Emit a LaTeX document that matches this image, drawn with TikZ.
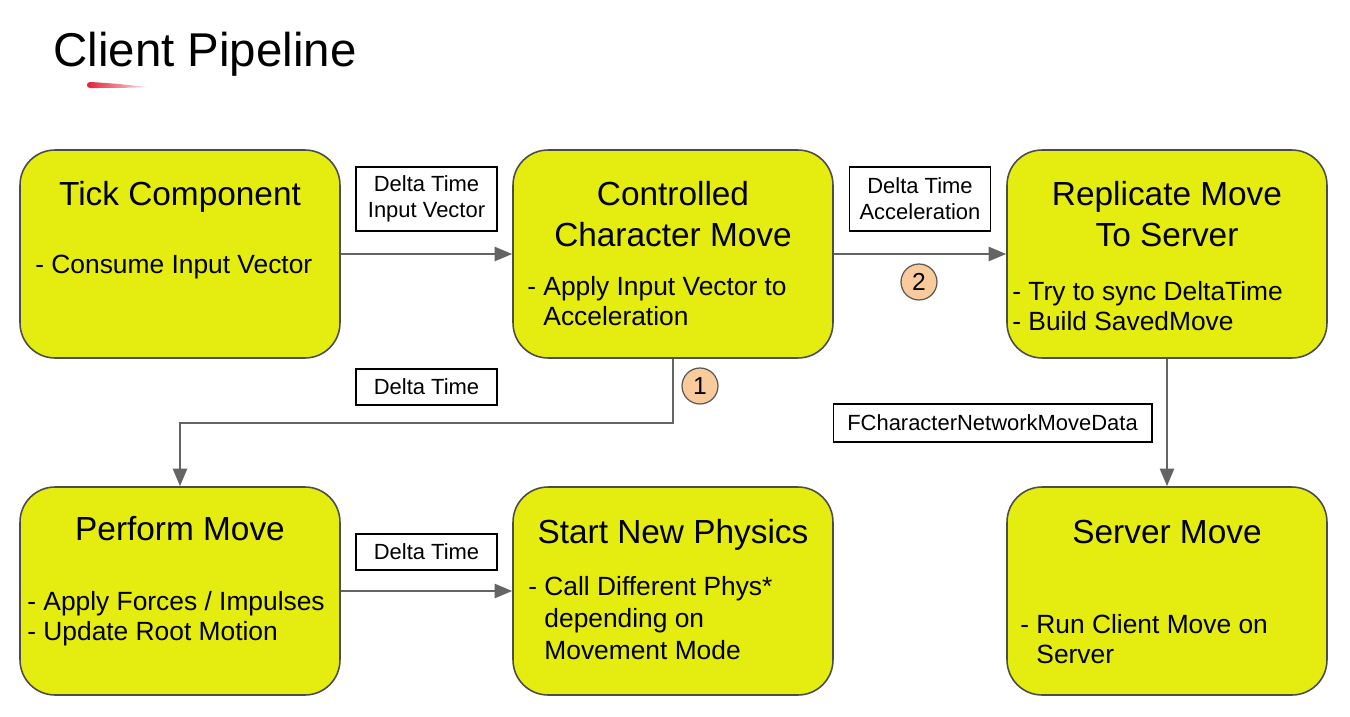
\documentclass[tikz,border=0pt]{standalone}
\usepackage{fontspec}
\setmainfont{Liberation Sans}
\usetikzlibrary{arrows.meta}

\definecolor{stageyellow}{RGB}{229,236,16}
\definecolor{flowgray}{RGB}{100,100,100}
\definecolor{stepeach}{RGB}{249,203,156}
\definecolor{swooshred}{RGB}{226,30,52}

\tikzset{
  stage/.style={draw=black!70, line width=0.9pt, fill=stageyellow, rounded corners=0.7cm,
    minimum width=6.4cm, minimum height=4.16cm},
  stagetitle/.style={anchor=base, align=center, inner sep=0pt, font=\fontsize{19}{23.2}\selectfont},
  stagebody/.style={anchor=base west, align=left, inner sep=0pt, font=\fontsize{15}{17}\selectfont},
  datalabel/.style={draw=black, line width=0.6pt, fill=white, align=center, inner sep=0pt,
    minimum width=2.82cm, font=\fontsize{12.5}{14.7}\selectfont},
  flow/.style={draw=flowgray, line width=1.3pt, -{Triangle[length=10pt,width=8pt]}},
  stepnum/.style={circle, draw=black!65, fill=stepeach, line width=0.7pt, minimum size=0.72cm,
    inner sep=0pt, font=\fontsize{14}{14}\selectfont}
}

\begin{document}
\begin{tikzpicture}[x=0.02cm,y=-0.02cm]
	\useasboundingbox (0,0) rectangle (1350,717);

	% title
	\node[anchor=base west, inner sep=0pt, font=\fontsize{27}{28}\selectfont] (title) at (53,66) {Client Pipeline};
	\shade[left color=swooshred, right color=swooshred!15] (90,82) .. controls (110,83) and (130,85) .. (146,87)
		.. controls (130,88) and (110,88) .. (90,88) .. controls (86,88) and (86,82) .. (90,82) -- cycle;

	% stages
	\node[stage] (tick) at (180,254) {};
	\node[stage] (ctrl) at (673,254) {};
	\node[stage] (repl) at (1167,254) {};
	\node[stage] (perform) at (180,591) {};
	\node[stage] (physics) at (673,591) {};
	\node[stage] (server) at (1167,591) {};

	% texts (multi-line nodes sit on their last baseline)
	\node[stagetitle] (ticktitle) at (180,205) {Tick Component};
	\node[stagebody] (tickbody) at (35,273) {- Consume Input Vector};

	\node[stagetitle] (ctrltitle) at (673,246) {Controlled\\Character Move};
	\node[stagebody] (ctrlbody) at (527,325) {- Apply Input Vector to\\\hphantom{- }Acceleration};

	\node[stagetitle] (repltitle) at (1167,246) {Replicate Move\\To Server};
	\node[stagebody] (replbody) at (1012,330) {- Try to sync DeltaTime\\- Build SavedMove};

	\node[stagetitle] (performtitle) at (180,540) {Perform Move};
	\node[stagebody] (performbody) at (27,640) {- Apply Forces / Impulses\\- Update Root Motion};

	\node[stagetitle] (physicstitle) at (673,543) {Start New Physics};
	\node[stagebody, font=\fontsize{15}{18.1}\selectfont] (physicsbody) at (528,659)
		{- Call Different Phys*\\\hphantom{- }depending on\\\hphantom{- }Movement Mode};

	\node[stagetitle] (servertitle) at (1167,543) {Server Move};
	\node[stagebody] (serverbody) at (1020,663) {- Run Client Move on\\\hphantom{- }Server};

	% connectors
	\draw[flow] (tick) -- (ctrl);
	\draw[flow] (ctrl) -- (repl);
	\draw[flow] (ctrl.south) -- ++(0,64) -| (perform.north);
	\draw[flow] (perform) -- (physics);
	\draw[flow] (repl) -- (server);

	% data passed along
	\node[datalabel, minimum height=1.28cm] (inputdata) at (426.5,199) {Delta Time\\Input Vector};
	\node[datalabel, minimum height=1.28cm] (acceldata) at (920,199) {Delta Time\\Acceleration};
	\node[datalabel, minimum height=0.72cm] (dtupper) at (426.5,387) {Delta Time};
	\node[datalabel, minimum height=0.76cm, minimum width=6.38cm] (netdata) at (992.5,423) {FCharacterNetworkMoveData};
	\node[datalabel, minimum height=0.72cm] (dtlower) at (426.5,552) {Delta Time};

	\node[stepnum] (stepone) at (700,386) {1};
	\node[stepnum] (steptwo) at (919,282) {2};
\end{tikzpicture}
\end{document}
